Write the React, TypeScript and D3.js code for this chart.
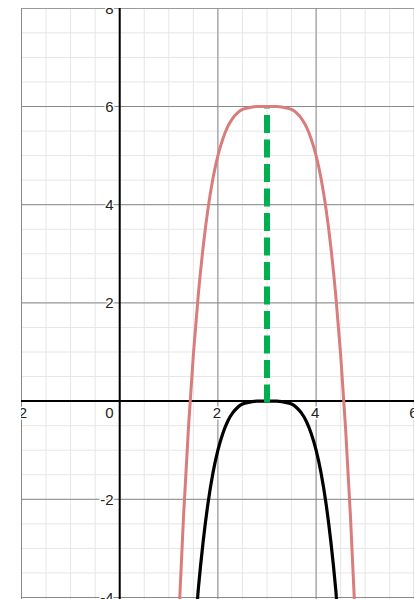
import React from "react";
import * as d3 from "d3";

// Sample points of the two quartic-shaped curves
const redX = [1.2, 1.3, 1.4, 1.5, 1.6, 1.7, 1.8, 1.9, 2.0, 2.1, 2.2, 2.3, 2.4, 2.5, 2.6, 2.7, 2.8, 2.9, 3.0,
  3.1, 3.2, 3.3, 3.4, 3.5, 3.6, 3.7, 3.8, 3.9, 4.0, 4.1, 4.2, 4.3, 4.4, 4.5, 4.6, 4.7, 4.8];
const redY = [-4.5, -2.35, -0.55, 0.94, 2.16, 3.14, 3.93, 4.54, 5.0, 5.34, 5.59, 5.76, 5.87, 5.94, 5.97, 5.99, 6.0, 6.0, 6.0,
  6.0, 6.0, 5.99, 5.97, 5.94, 5.87, 5.76, 5.59, 5.34, 5.0, 4.54, 3.93, 3.14, 2.16, 0.94, -0.55, -2.35, -4.5];

const blackX = [1.5, 1.6, 1.7, 1.8, 1.9, 2.0, 2.1, 2.2, 2.3, 2.4, 2.5, 2.6, 2.7, 2.8, 2.9, 3.0,
  3.1, 3.2, 3.3, 3.4, 3.5, 3.6, 3.7, 3.8, 3.9, 4.0, 4.1, 4.2, 4.3, 4.4, 4.5];
const blackY = [-5.06, -3.84, -2.86, -2.07, -1.46, -1.0, -0.66, -0.41, -0.24, -0.13, -0.06, -0.03, -0.01, 0, 0, 0,
  0, 0, -0.01, -0.03, -0.06, -0.13, -0.24, -0.41, -0.66, -1.0, -1.46, -2.07, -2.86, -3.84, -5.06];

// Vertical dashed segment at the peak, drawn upward from the x-axis
const dashX = [3, 3];
const dashY = [0, 6];

const xTicks = [-2, 2, 4, 6];
const yTicks = [-4, -2, 2, 4, 6, 8];

const W = 414;
const H = 599;

export default function App() {
  const x = d3.scaleLinear().domain([-2, 6]).range([21.5, 414.3]);
  const y = d3.scaleLinear().domain([-4, 8]).range([597.5, 8.3]);

  const minorX = d3.range(-2, 6.01, 0.5);
  const minorY = d3.range(-4, 8.01, 0.5);
  const majorX = d3.range(-2, 6.01, 2);
  const majorY = d3.range(-4, 8.01, 2);

  const line = d3
    .line<[number, number]>()
    .x((d) => x(d[0]))
    .y((d) => y(d[1]))
    .curve(d3.curveMonotoneX);
  const straight = d3
    .line<[number, number]>()
    .x((d) => x(d[0]))
    .y((d) => y(d[1]));

  const redPts = redX.map((v, i) => [v, redY[i]] as [number, number]);
  const blackPts = blackX.map((v, i) => [v, blackY[i]] as [number, number]);
  const dashPts = dashX.map((v, i) => [v, dashY[i]] as [number, number]);

  const x0 = x(0);
  const y0 = y(0);
  const font = "'Liberation Sans', Arial, sans-serif";
  const labelStyle = {
    fontFamily: font,
    fontSize: 15,
    fill: "#222",
    stroke: "#fff",
    strokeWidth: 3,
    paintOrder: "stroke" as const,
  };

  return (
    <svg
      width={W}
      height={H}
      style={{ position: "absolute", left: 0, top: 0, background: "#fff" }}
    >
      <defs>
        <clipPath id="plot">
          <rect x={21} y={8} width={W} height={H} />
        </clipPath>
      </defs>
      <g clipPath="url(#plot)">
        {minorX.map((v) => (
          <line key={"mx" + v} x1={x(v)} x2={x(v)} y1={0} y2={H} stroke="#e6e6e6" strokeWidth={1} />
        ))}
        {minorY.map((v) => (
          <line key={"my" + v} y1={y(v)} y2={y(v)} x1={0} x2={W} stroke="#e6e6e6" strokeWidth={1} />
        ))}
        {majorX.map((v) => (
          <line key={"Mx" + v} x1={x(v)} x2={x(v)} y1={0} y2={H} stroke="#888" strokeWidth={1} />
        ))}
        {majorY.map((v) => (
          <line key={"My" + v} y1={y(v)} y2={y(v)} x1={0} x2={W} stroke="#888" strokeWidth={1} />
        ))}
        <line x1={x0} x2={x0} y1={0} y2={H} stroke="#000" strokeWidth={2} />
        <line y1={y0} y2={y0} x1={0} x2={W} stroke="#000" strokeWidth={2} />

        {yTicks.map((v) => (
          <text key={"yt" + v} x={x0 - 6} y={y(v)} dy="0.36em" textAnchor="end" style={labelStyle}>
            {v < 0 ? "-" + Math.abs(v) : String(v)}
          </text>
        ))}
        {xTicks.map((v) => (
          <text key={"xt" + v} x={x(v) - 1} y={y0 + 17} textAnchor="middle" style={labelStyle}>
            {v < 0 ? "-" + Math.abs(v) : String(v)}
          </text>
        ))}
        <text x={x0 - 6} y={y0 + 17} textAnchor="end" style={labelStyle}>
          0
        </text>

        <path d={line(redPts) ?? ""} fill="none" stroke="#d97c7c" strokeWidth={3} />
        <path d={line(blackPts) ?? ""} fill="none" stroke="#000" strokeWidth={3.2} />
        <path
          d={straight(dashPts) ?? ""}
          fill="none"
          stroke="#00b050"
          strokeWidth={6}
          strokeDasharray="18 6.5"
          transform="translate(0,1.5)"
        />
      </g>
    </svg>
  );
}
